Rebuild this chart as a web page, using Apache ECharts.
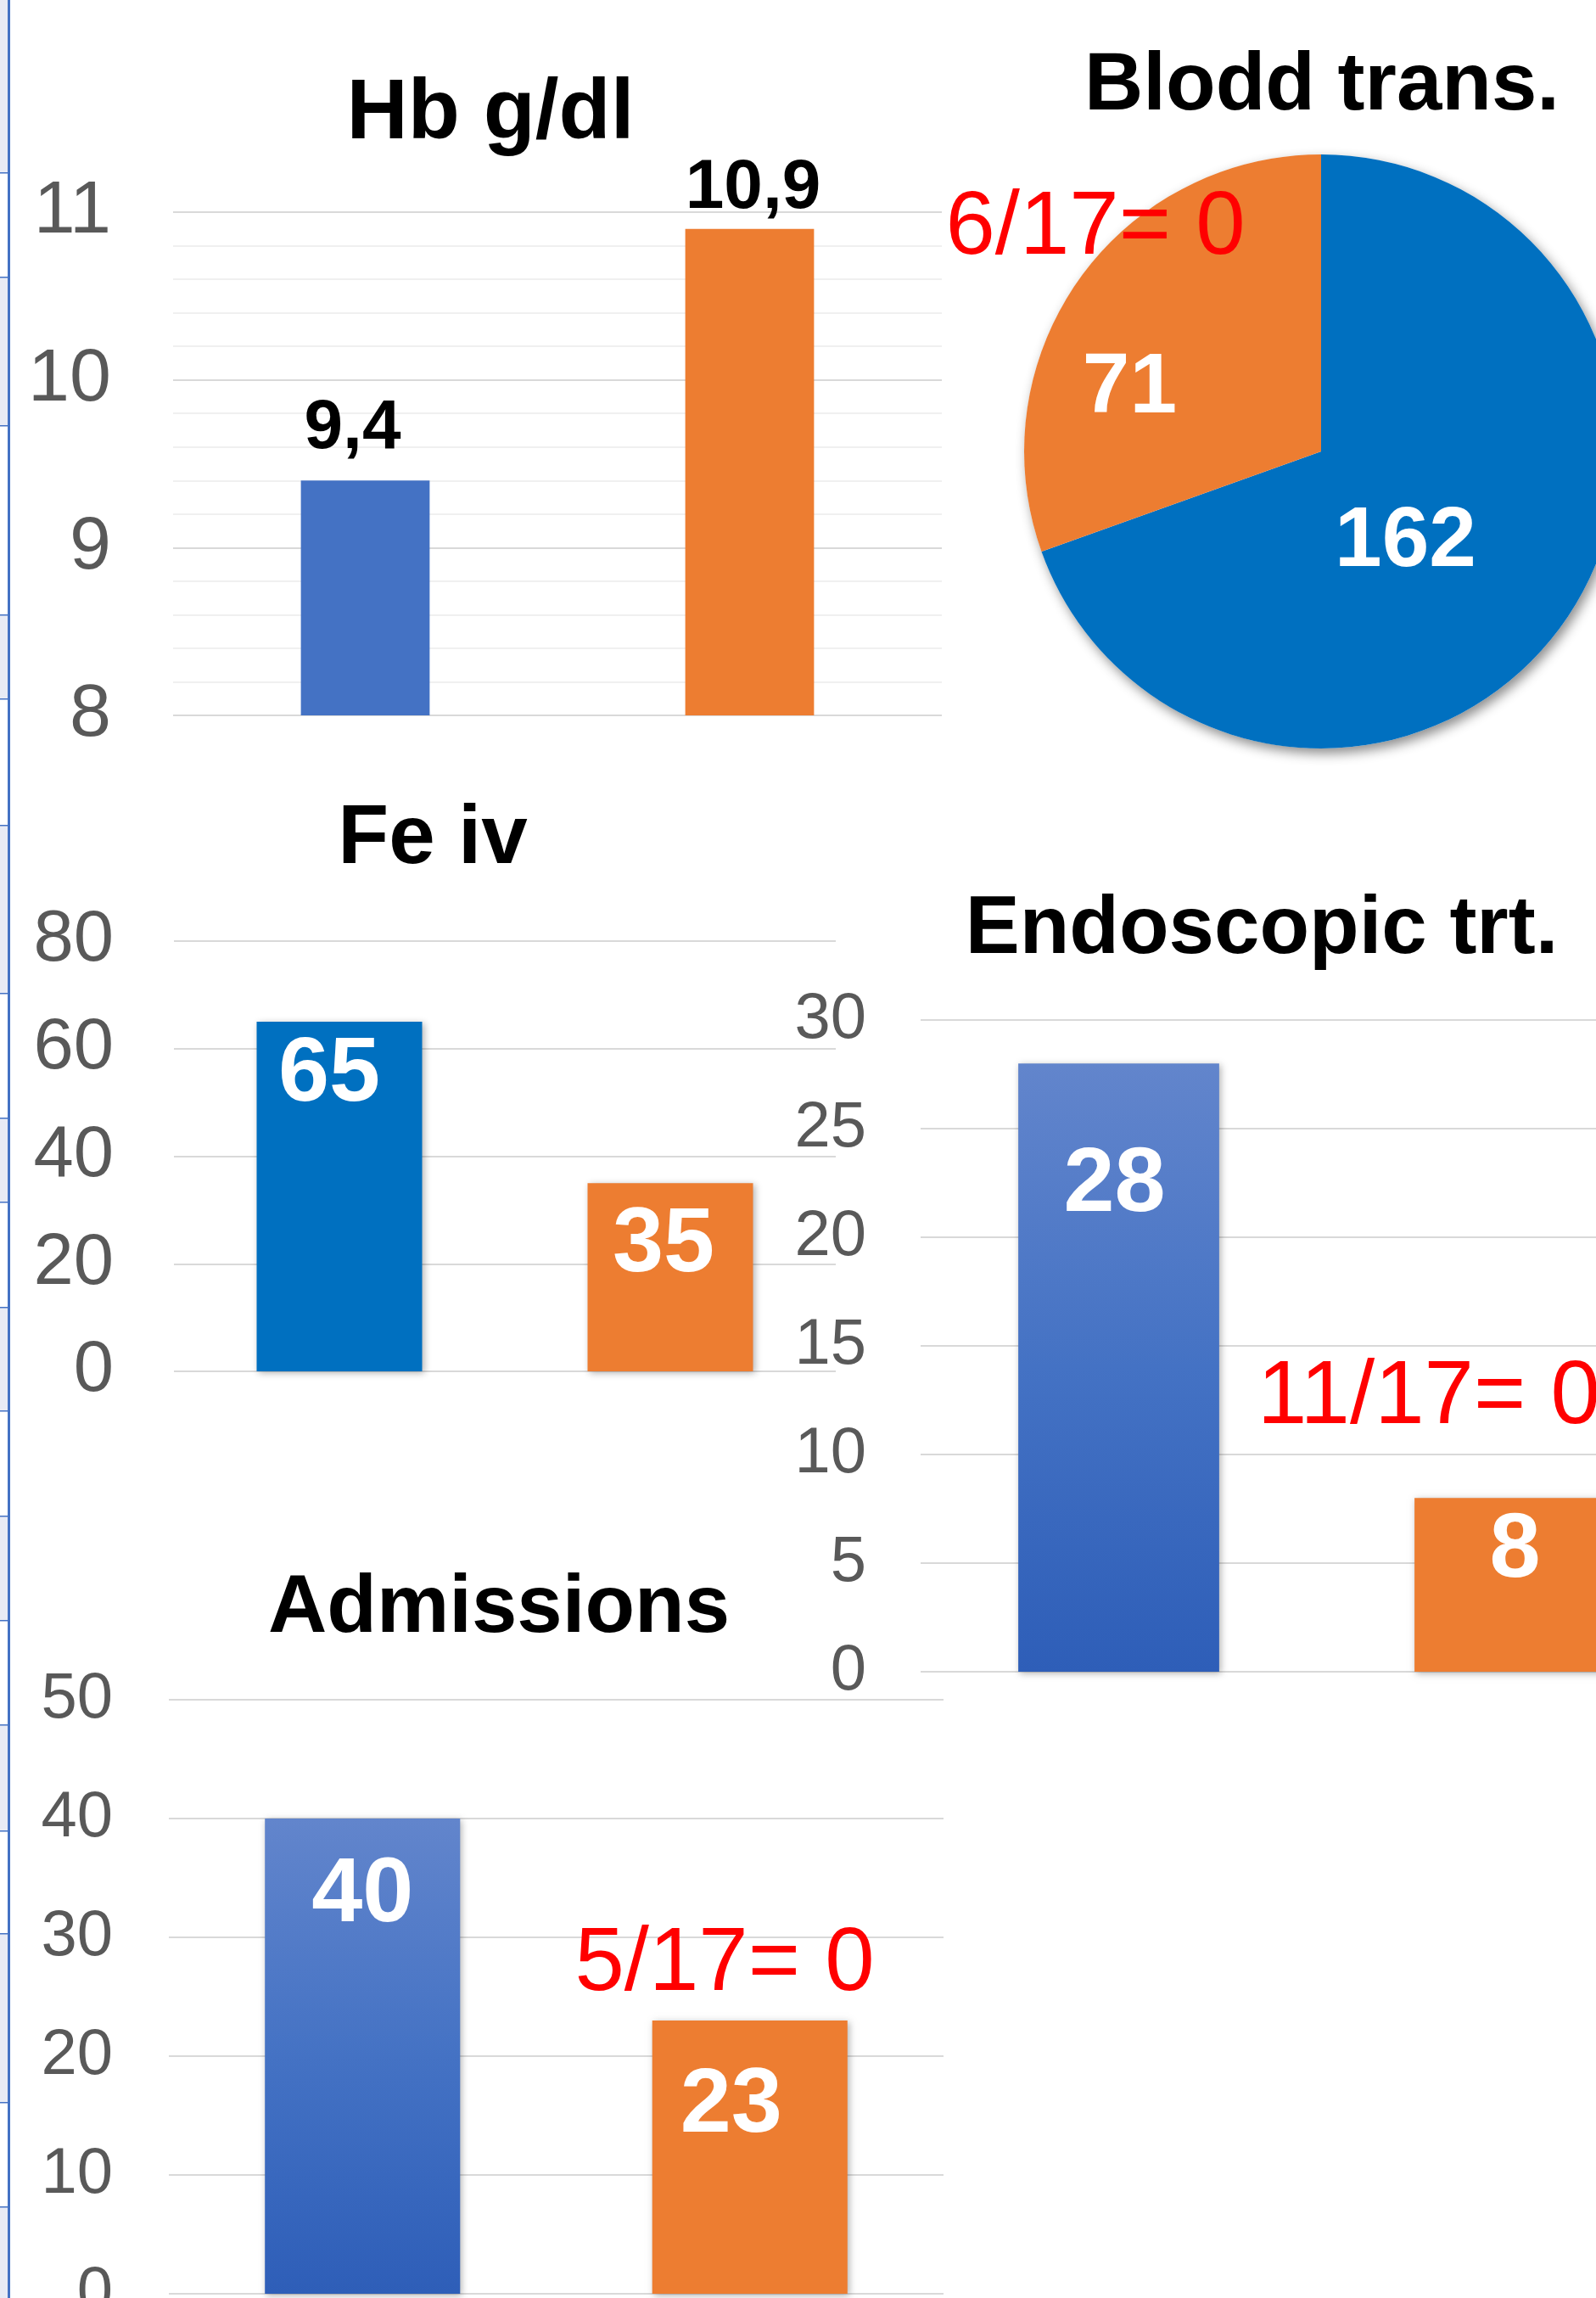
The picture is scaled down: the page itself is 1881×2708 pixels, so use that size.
<!DOCTYPE html>
<html>
<head>
<meta charset="utf-8">
<title>Hb, Blodd trans., Fe iv, Endoscopic trt., Admissions</title>
<script src="https://cdn.jsdelivr.net/npm/echarts@6/dist/echarts.min.js"></script>
<style>
  html, body { margin: 0; padding: 0; background: #fff; }
  #chart { width: 1881px; height: 2708px; }
</style>
</head>
<body>
<div id="chart"></div>
<script>
// two groups compared in every panel (no axis labels in the source)
const groups = ["A", "B"];

const hbValues = [9.4, 10.9];
const transfusionValues = [162, 71];
const feValues = [65, 35];
const endoValues = [28, 8];
const admissionValues = [40, 23];

const panelTitles = ["Hb g/dl", "Blodd trans.", "Fe iv", "Endoscopic trt.", "Admissions"];
const ratioNotes = ["6/17= 0", "11/17= 0", "5/17= 0"];

const FONT = "'Liberation Sans', Arial, sans-serif";
const BLUE = "#4472C4";
const DARK_BLUE = "#0070C0";
const ORANGE = "#ED7D31";
const blueGrad = new echarts.graphic.LinearGradient(0, 0, 0, 1, [
  { offset: 0, color: "#6285CC" },
  { offset: 0.5, color: "#4472C4" },
  { offset: 1, color: "#2E5EB8" }
]);
const barShadow = { shadowBlur: 8, shadowOffsetX: 2, shadowOffsetY: 2, shadowColor: "rgba(0,0,0,0.3)" };

const myChart = echarts.init(document.getElementById("chart"), null, { renderer: "canvas" });

function catAxis(gridIndex) {
  return {
    type: "category", gridIndex: gridIndex, data: groups,
    axisLine: { show: false }, axisTick: { show: false }, axisLabel: { show: false }
  };
}

function valAxis(gridIndex, min, max, interval, fontSize, margin, minor) {
  return {
    type: "value", gridIndex: gridIndex, min: min, max: max, interval: interval,
    axisLine: { show: false }, axisTick: { show: false },
    axisLabel: { fontSize: fontSize, color: "#595959", margin: margin, fontFamily: FONT, padding: [20, 0, 0, 0] },
    splitLine: { lineStyle: { color: "#d9d9d9", width: 2 } },
    minorTick: { show: false, splitNumber: 5 },
    minorSplitLine: { show: !!minor, lineStyle: { color: "#f0f0f0", width: 2 } }
  };
}

// white number inside the bar, per-bar nudges (dist from top, x offset)
function insideLabels(values, colors, dists, dx) {
  return values.map((v, i) => ({
    value: v,
    itemStyle: { color: colors[i] },
    label: { distance: dists[i], offset: [dx[i], 0] }
  }));
}

const insideLabel = {
  show: true, position: "insideTop", color: "#fff", fontWeight: "bold",
  fontSize: 108, lineHeight: 108, fontFamily: FONT
};

// left edge of the sheet (row header strip)
const rowEdges = [0, 203, 326, 501, 724, 823, 972, 1170, 1317, 1416, 1540, 1662,
  1786, 1909, 2032, 2157, 2278, 2477, 2600, 2708];
const strip = [];
for (let i = 0; i < rowEdges.length - 1; i++) {
  if (i % 2 === 0) {
    strip.push({ type: "rect", z: -1, shape: { x: 0, y: rowEdges[i], width: 10, height: rowEdges[i + 1] - rowEdges[i] },
      style: { fill: "#e8ebf5" } });
  }
  if (i > 0) {
    strip.push({ type: "rect", z: -1, shape: { x: 0, y: rowEdges[i], width: 10, height: 1.5 }, style: { fill: BLUE } });
  }
}
strip.push({ type: "rect", z: -1, shape: { x: 9, y: 0, width: 3, height: 2708 }, style: { fill: BLUE } });

function txt(text, x, y, size, opts) {
  return {
    type: "text", z: 100, x: x, y: y,
    style: Object.assign({
      text: text, font: "bold " + size + "px " + FONT, fill: "#000",
      align: "center", verticalAlign: "middle"
    }, opts || {})
  };
}

const pieShift = [[-46, 5], [-80, 29]];
const pieTotal = transfusionValues.reduce((a, b) => a + b, 0);

const option = {
  animation: false,
  backgroundColor: "#fff",
  grid: [
    { left: 204, top: 250, width: 906, height: 593, outerBoundsMode: "none", containLabel: false },
    { left: 205, top: 1109, width: 780, height: 507, outerBoundsMode: "none", containLabel: false },
    { left: 1085, top: 1202, width: 934, height: 768, outerBoundsMode: "none", containLabel: false },
    { left: 199, top: 2003, width: 913, height: 700, outerBoundsMode: "none", containLabel: false }
  ],
  xAxis: [catAxis(0), catAxis(1), catAxis(2), catAxis(3)],
  yAxis: [
    valAxis(0, 8, 11, 1, 88, 73, true),
    valAxis(1, 0, 80, 20, 85, 71),
    valAxis(2, 0, 30, 5, 76, 64),
    valAxis(3, 0, 50, 10, 76, 66)
  ],
  graphic: strip.concat([
    txt(panelTitles[0], 578, 135, 100),
    txt(panelTitles[1], 1558, 103, 96),
    txt(panelTitles[2], 510, 990, 98),
    txt(panelTitles[3], 1487, 1097, 96),
    txt(panelTitles[4], 588, 1897, 96),
    txt(ratioNotes[0], 1291, 270, 105, { font: "105px " + FONT, fill: "#ff0000" }),
    txt(ratioNotes[1], 1482, 1648, 105, { font: "105px " + FONT, fill: "#ff0000", align: "left" }),
    txt(ratioNotes[2], 854, 2316, 105, { font: "105px " + FONT, fill: "#ff0000" })
  ]),
  series: [
    {
      type: "bar", xAxisIndex: 0, yAxisIndex: 0, barWidth: "33.5%",
      data: hbValues.map((v, i) => ({
        value: v,
        itemStyle: { color: [BLUE, ORANGE][i] },
        label: { distance: [20, 6][i], offset: [[-15, 0], [4, 0]][i] }
      })),
      label: {
        show: true, position: "top", color: "#000", fontWeight: "bold",
        fontSize: 82, lineHeight: 82, fontFamily: FONT,
        formatter: p => String(p.value).replace(".", ",")
      }
    },
    {
      type: "pie", center: [1557, 532], radius: 350, silent: true, z: 1,
      data: [{ value: pieTotal, itemStyle: { color: "#fff" } }],
      label: { show: false }, labelLine: { show: false },
      itemStyle: { borderWidth: 0, shadowBlur: 14, shadowOffsetX: 4, shadowOffsetY: 6, shadowColor: "rgba(0,0,0,0.45)" }
    },
    {
      type: "pie", center: [1557, 532], radius: 350, startAngle: 90, clockwise: true,
      avoidLabelOverlap: false, z: 2,
      data: transfusionValues.map((v, i) => ({ value: v, itemStyle: { color: [DARK_BLUE, ORANGE][i] } })),
      itemStyle: { borderWidth: 0 },
      label: {
        show: true, position: "inside", formatter: "{c}", color: "#fff",
        fontWeight: "bold", fontSize: 100, fontFamily: FONT
      },
      labelLine: { show: false },
      labelLayout: p => ({ dx: pieShift[p.dataIndex][0], dy: pieShift[p.dataIndex][1] })
    },
    {
      type: "bar", xAxisIndex: 1, yAxisIndex: 1, barWidth: "50%",
      itemStyle: barShadow,
      data: insideLabels(feValues, [DARK_BLUE, ORANGE], [9, 20], [-12, -8]),
      label: insideLabel
    },
    {
      type: "bar", xAxisIndex: 2, yAxisIndex: 2, barWidth: "50.7%",
      itemStyle: barShadow,
      data: insideLabels(endoValues, [blueGrad, ORANGE], [90, 9], [-5, 0]),
      label: insideLabel
    },
    {
      type: "bar", xAxisIndex: 3, yAxisIndex: 3, barWidth: "50.4%",
      itemStyle: barShadow,
      data: insideLabels(admissionValues, [blueGrad, ORANGE], [37, 47], [0, -22]),
      label: insideLabel
    }
  ]
};

myChart.setOption(option);
</script>
</body>
</html>
